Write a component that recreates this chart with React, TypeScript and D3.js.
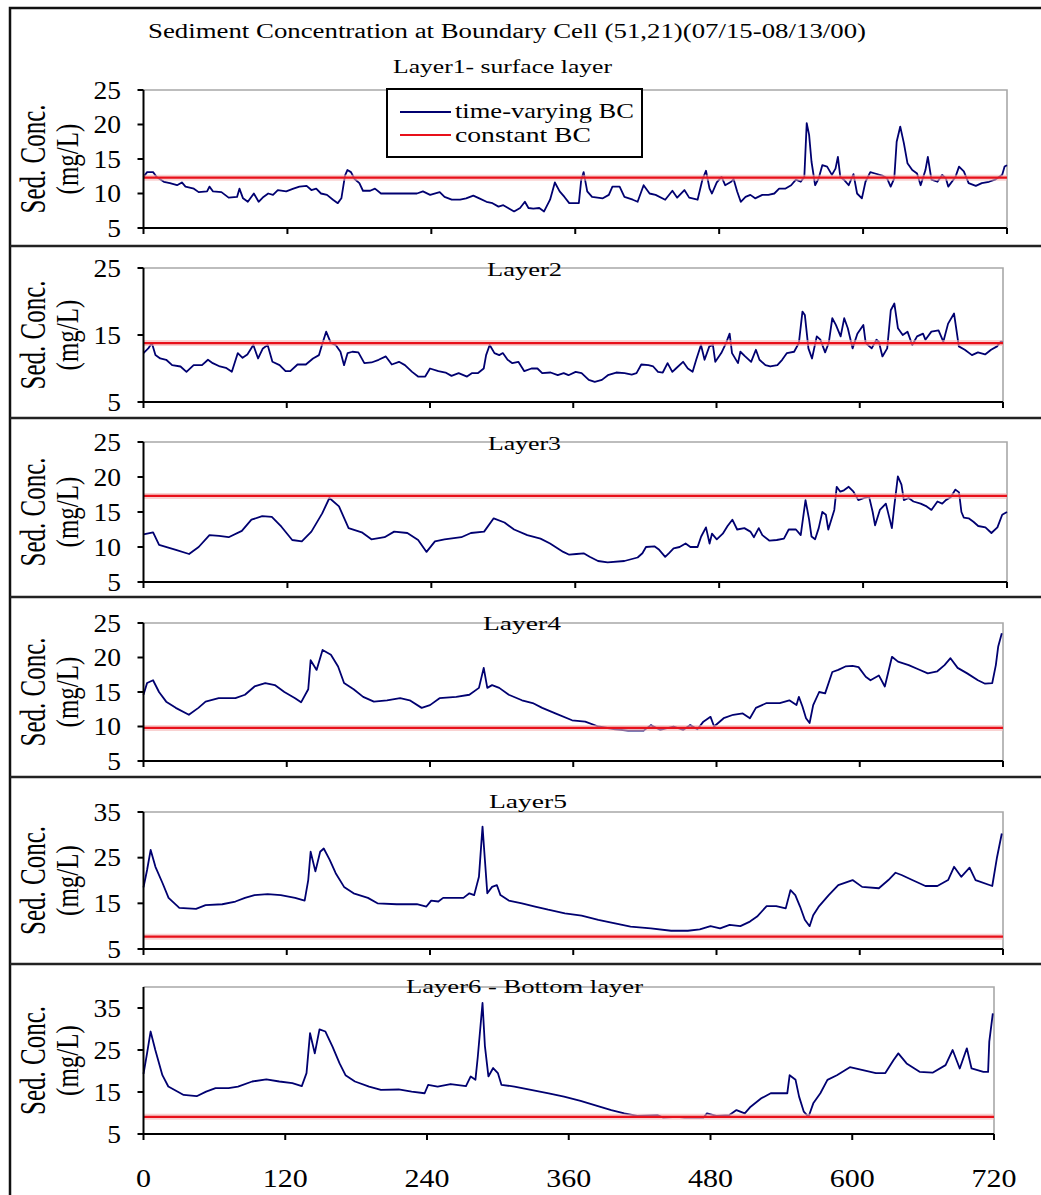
import React from "react";
import * as d3 from "d3";

// hours since 07/15 00:00, sediment concentration (mg/L)
const hourTicks = [0, 120, 240, 360, 480, 600, 720];
const layerNames = ["Layer1- surface layer", "Layer2", "Layer3", "Layer4", "Layer5", "Layer6 - Bottom layer"];
const yDomains = [[5, 25], [5, 25], [5, 25], [5, 25], [5, 35], [5, 40]];
const yTickSets = [
  [5, 10, 15, 20, 25],
  [5, 15, 25],
  [5, 10, 15, 20, 25],
  [5, 10, 15, 20, 25],
  [5, 15, 25, 35],
  [5, 15, 25, 35],
];
const constantBC = [12.3, 13.8, 17.3, 9.8, 7.7, 9.1];

const layer1 = [
  [0, 12.4], [3, 13.1], [8, 13.1], [11, 12.4], [17, 11.7], [22, 11.5], [28, 11.2], [32, 11.6], [35, 11.0], [42, 10.7],
  [46, 10.2], [53, 10.3], [55, 11.0], [58, 10.3], [65, 10.2], [71, 9.4], [78, 9.5], [80, 10.7], [83, 9.3], [87, 8.8],
  [92, 10.0], [96, 8.8], [100, 9.5], [104, 10.0], [108, 9.8], [112, 10.5], [119, 10.3], [125, 10.7], [130, 11.0], [136, 11.1],
  [140, 10.5], [144, 10.7], [148, 10.0], [153, 9.8], [158, 9.1], [162, 8.6], [165, 9.3], [168, 12.6], [170, 13.4], [173, 13.1],
  [176, 12.1], [180, 11.5], [183, 10.4], [189, 10.4], [193, 10.7], [198, 10.0], [214, 10.0], [228, 10.0], [233, 10.3], [239, 9.8],
  [247, 10.2], [251, 9.5], [257, 9.1], [264, 9.1], [269, 9.3], [275, 9.7], [280, 9.3], [286, 8.8], [291, 8.6], [296, 8.1],
  [300, 8.3], [304, 7.9], [309, 7.4], [314, 7.9], [318, 8.8], [321, 7.9], [325, 7.8], [330, 7.9], [334, 7.4], [339, 9.1],
  [343, 11.6], [347, 10.3], [351, 9.5], [355, 8.6], [363, 8.6], [365, 12.0], [367, 13.1], [370, 10.3], [374, 9.5], [383, 9.3],
  [388, 9.8], [391, 11.0], [397, 11.0], [401, 9.5], [408, 9.1], [412, 8.8], [417, 11.2], [422, 10.0], [427, 9.8], [435, 9.1],
  [441, 10.4], [445, 9.4], [451, 10.5], [455, 9.4], [462, 9.1], [466, 12.0], [469, 13.3], [472, 10.7], [474, 10.0], [478, 11.6],
  [482, 12.4], [485, 11.2], [490, 11.7], [492, 12.1], [495, 10.3], [498, 8.8], [502, 9.5], [506, 9.8], [510, 9.3], [516, 9.8],
  [521, 9.8], [526, 10.0], [530, 10.7], [535, 10.7], [540, 11.2], [544, 12.0], [548, 11.7], [551, 12.4], [553, 20.2], [555, 18.5],
  [557, 14.6], [560, 11.2], [563, 12.2], [566, 14.1], [570, 13.9], [574, 12.7], [577, 13.6], [579, 15.3], [581, 12.4], [584, 12.0],
  [588, 11.2], [592, 12.8], [595, 10.0], [599, 9.3], [602, 11.7], [606, 13.1], [610, 12.9], [616, 12.6], [620, 12.2], [623, 11.0],
  [626, 12.2], [628, 17.5], [631, 19.7], [634, 17.3], [637, 14.4], [641, 13.4], [645, 12.9], [648, 11.2], [652, 13.4], [654, 15.3],
  [657, 12.0], [662, 11.7], [666, 12.7], [669, 12.2], [671, 11.0], [677, 12.4], [680, 13.9], [684, 13.2], [688, 11.5], [694, 11.1],
  [699, 11.5], [705, 11.7], [710, 12.0], [716, 12.7], [718, 13.9], [720, 14.1],
];

const layer2 = [
  [0, 12.3], [4, 13.0], [7, 13.8], [10, 12.0], [14, 11.5], [19, 11.3], [24, 10.5], [31, 10.3], [36, 9.5], [42, 10.5],
  [49, 10.5], [54, 11.3], [58, 10.8], [64, 10.3], [69, 10.1], [74, 9.5], [79, 12.3], [83, 11.6], [87, 12.1], [92, 13.5],
  [96, 11.5], [100, 13.0], [104, 13.5], [108, 11.0], [114, 10.5], [119, 9.6], [123, 9.6], [129, 10.6], [136, 10.6], [142, 11.5],
  [147, 12.0], [150, 13.8], [153, 15.5], [157, 13.8], [161, 13.5], [165, 12.5], [168, 10.5], [171, 12.3], [175, 12.5], [180, 12.4],
  [185, 10.8], [191, 10.9], [197, 11.3], [203, 11.8], [208, 10.6], [214, 11.0], [219, 10.5], [225, 9.5], [230, 8.8], [236, 8.8],
  [240, 10.0], [247, 9.6], [253, 9.4], [258, 8.9], [264, 9.3], [271, 8.8], [275, 9.3], [280, 9.3], [285, 10.0], [287, 12.0],
  [290, 13.5], [294, 12.3], [298, 12.0], [301, 12.3], [305, 11.3], [309, 10.8], [314, 11.0], [319, 9.6], [325, 10.0], [330, 10.0],
  [334, 9.3], [341, 9.4], [347, 9.0], [352, 9.3], [356, 9.0], [362, 9.5], [367, 9.3], [373, 8.3], [378, 8.0], [384, 8.3],
  [389, 9.0], [396, 9.4], [403, 9.3], [409, 9.1], [413, 9.3], [417, 10.6], [423, 10.5], [427, 10.3], [431, 9.5], [435, 9.4],
  [439, 10.8], [443, 9.5], [446, 10.0], [452, 11.0], [456, 10.0], [460, 9.5], [463, 11.3], [467, 13.5], [470, 11.3], [474, 13.3],
  [477, 13.5], [479, 11.0], [484, 12.3], [488, 13.8], [491, 15.2], [493, 12.3], [498, 10.8], [500, 12.5], [504, 11.8], [509, 11.0],
  [513, 12.8], [516, 11.3], [521, 10.5], [525, 10.3], [531, 10.5], [535, 11.3], [539, 12.3], [545, 12.5], [549, 13.8], [552, 18.5],
  [554, 18.0], [557, 13.0], [560, 11.5], [564, 14.8], [567, 14.3], [571, 12.4], [574, 13.8], [577, 17.5], [580, 16.5], [584, 14.8],
  [587, 17.5], [590, 16.0], [594, 13.0], [598, 15.2], [603, 16.5], [605, 13.8], [610, 13.0], [614, 14.3], [616, 14.0], [619, 11.8],
  [623, 13.0], [626, 18.7], [629, 19.7], [632, 16.0], [636, 15.0], [640, 15.5], [644, 13.5], [648, 14.8], [653, 15.2], [655, 14.3],
  [660, 15.5], [666, 15.7], [670, 14.0], [674, 16.7], [679, 18.2], [683, 13.3], [688, 12.8], [694, 12.0], [699, 12.4], [705, 12.1],
  [710, 12.8], [715, 13.3], [718, 14.0], [720, 14.0],
];

const layer3 = [
  [0, 11.8], [8, 12.1], [13, 10.3], [27, 9.6], [38, 9.0], [46, 10.0], [55, 11.7], [63, 11.6], [71, 11.4], [82, 12.3],
  [90, 13.9], [99, 14.4], [107, 14.3], [115, 12.9], [124, 11.0], [132, 10.8], [140, 12.2], [149, 14.8], [155, 17.0], [163, 15.8],
  [171, 12.7], [182, 12.1], [190, 11.1], [201, 11.4], [209, 12.2], [220, 12.0], [229, 11.0], [236, 9.3], [243, 10.8], [251, 11.1],
  [265, 11.4], [273, 12.0], [284, 12.2], [292, 14.1], [301, 13.5], [309, 12.5], [320, 11.7], [331, 11.2], [339, 10.5], [350, 9.3],
  [355, 8.9], [361, 9.0], [367, 9.1], [372, 8.6], [379, 8.0], [387, 7.8], [401, 8.0], [412, 8.5], [416, 9.1], [419, 10.0],
  [426, 10.1], [430, 9.6], [435, 8.6], [438, 9.1], [442, 9.8], [447, 10.0], [452, 10.5], [456, 10.0], [462, 10.0], [465, 11.5],
  [469, 12.8], [472, 10.5], [474, 11.9], [478, 11.1], [483, 11.9], [487, 13.0], [491, 13.9], [495, 12.5], [501, 12.7], [506, 12.2],
  [509, 11.4], [513, 12.7], [516, 11.7], [522, 10.9], [528, 11.0], [534, 11.2], [538, 12.5], [544, 12.5], [548, 11.7], [552, 16.7],
  [555, 13.9], [557, 11.5], [560, 11.1], [563, 12.7], [566, 15.0], [569, 14.6], [571, 12.5], [576, 15.3], [578, 18.6], [581, 17.9],
  [584, 18.1], [588, 18.6], [592, 17.9], [596, 16.7], [601, 17.0], [605, 17.2], [608, 15.0], [610, 13.1], [614, 15.3], [619, 16.2],
  [621, 14.8], [624, 12.7], [626, 15.8], [629, 20.1], [632, 18.9], [634, 16.7], [638, 17.0], [642, 16.5], [648, 16.2], [653, 15.8],
  [657, 15.3], [662, 16.5], [666, 16.2], [669, 16.7], [673, 17.1], [677, 18.2], [680, 17.8], [682, 15.0], [684, 14.2], [688, 14.1],
  [692, 13.6], [696, 13.0], [702, 12.8], [707, 12.0], [712, 12.8], [716, 14.6], [720, 15.0],
];

const layer4 = [
  [0, 14.6], [3, 16.3], [8, 16.7], [13, 15.0], [19, 13.6], [27, 12.7], [38, 11.7], [46, 12.7], [52, 13.6], [63, 14.1],
  [77, 14.1], [85, 14.6], [93, 15.8], [102, 16.3], [110, 16.0], [118, 15.0], [127, 14.1], [132, 13.5], [138, 15.4], [140, 19.6],
  [145, 18.2], [150, 21.1], [157, 20.4], [163, 18.7], [168, 16.3], [176, 15.4], [184, 14.3], [193, 13.6], [204, 13.8], [215, 14.1],
  [223, 13.8], [233, 12.7], [240, 13.1], [248, 14.1], [262, 14.3], [273, 14.6], [281, 15.6], [285, 18.5], [288, 15.6], [292, 16.0],
  [298, 15.6], [306, 14.6], [317, 13.8], [326, 13.4], [334, 12.7], [345, 11.9], [359, 10.9], [370, 10.7], [381, 10.0], [395, 9.6],
  [406, 9.4], [419, 9.4], [425, 10.2], [433, 9.5], [444, 10.0], [452, 9.5], [458, 10.2], [464, 9.6], [469, 10.7], [475, 11.4],
  [478, 10.0], [486, 11.2], [494, 11.7], [502, 11.9], [508, 11.2], [513, 12.7], [522, 13.4], [533, 13.4], [541, 13.8], [547, 13.1],
  [549, 14.3], [552, 12.9], [555, 11.2], [558, 10.5], [561, 13.1], [566, 15.0], [571, 14.8], [577, 17.9], [582, 18.2], [588, 18.7],
  [594, 18.8], [599, 18.6], [605, 17.2], [609, 16.7], [616, 17.4], [621, 15.8], [627, 20.1], [632, 19.4], [641, 18.9], [649, 18.3],
  [657, 17.7], [665, 18.0], [671, 18.9], [676, 19.9], [682, 18.5], [690, 17.7], [699, 16.7], [705, 16.2], [711, 16.3], [714, 18.9],
  [716, 21.6], [719, 23.5],
];

const layer5 = [
  [0, 18.5], [3, 22.3], [6, 26.7], [10, 23.0], [16, 19.4], [21, 16.2], [30, 14.0], [44, 13.8], [52, 14.6], [66, 14.8],
  [77, 15.4], [85, 16.2], [93, 16.8], [104, 17.0], [115, 16.8], [127, 16.2], [135, 15.6], [138, 20.1], [140, 26.3], [144, 22.0],
  [148, 26.3], [151, 27.0], [156, 24.5], [161, 21.6], [168, 18.6], [176, 17.2], [188, 16.2], [196, 15.0], [212, 14.8], [229, 14.8],
  [237, 14.3], [241, 15.6], [247, 15.4], [251, 16.2], [268, 16.2], [273, 17.2], [277, 16.8], [281, 20.8], [284, 31.8], [286, 24.5],
  [288, 17.2], [292, 18.6], [296, 19.0], [299, 16.8], [306, 15.6], [317, 15.0], [328, 14.3], [339, 13.6], [353, 12.8], [367, 12.3],
  [381, 11.4], [395, 10.6], [408, 9.9], [425, 9.5], [442, 9.0], [456, 9.0], [466, 9.3], [475, 10.0], [483, 9.5], [491, 10.3],
  [500, 10.0], [508, 11.0], [514, 12.1], [522, 14.4], [530, 14.4], [538, 13.9], [542, 17.9], [546, 16.8], [550, 14.3], [554, 11.4],
  [558, 10.0], [561, 12.4], [566, 14.4], [574, 16.8], [582, 19.0], [594, 20.1], [602, 18.6], [616, 18.3], [624, 20.1], [630, 21.7],
  [635, 21.2], [644, 20.1], [655, 18.8], [665, 18.8], [674, 20.1], [679, 23.0], [685, 20.8], [692, 22.8], [697, 20.1], [711, 18.8],
  [715, 25.1], [719, 30.3],
];

const layer6 = [
  [0, 19.3], [3, 24.2], [6, 29.4], [10, 25.0], [16, 19.0], [21, 16.3], [34, 14.3], [45, 14.0], [53, 15.1], [61, 15.9],
  [72, 15.9], [80, 16.3], [92, 17.5], [104, 18.0], [115, 17.5], [126, 17.1], [134, 16.4], [138, 19.5], [141, 29.0], [145, 24.2],
  [149, 29.9], [154, 29.4], [160, 25.8], [166, 21.8], [171, 19.0], [179, 17.5], [191, 16.3], [201, 15.5], [216, 15.6], [227, 15.1],
  [238, 14.7], [241, 16.7], [249, 16.3], [260, 16.9], [273, 16.4], [277, 18.7], [281, 17.9], [283, 23.4], [287, 36.2], [289, 26.0],
  [292, 18.7], [296, 20.7], [300, 19.5], [303, 16.7], [314, 16.3], [328, 15.5], [343, 14.7], [356, 13.9], [370, 12.9], [384, 11.7],
  [396, 10.7], [407, 9.9], [418, 9.3], [435, 9.5], [440, 8.9], [452, 9.1], [458, 8.9], [474, 8.9], [477, 9.9], [485, 9.3],
  [496, 9.5], [502, 10.7], [509, 9.9], [514, 11.5], [523, 13.5], [531, 14.7], [545, 14.7], [547, 19.0], [552, 17.9], [555, 13.9],
  [559, 10.3], [563, 9.1], [567, 12.3], [573, 14.7], [579, 17.9], [587, 19.0], [598, 20.9], [609, 20.2], [620, 19.5], [628, 19.5],
  [635, 22.6], [639, 24.2], [646, 21.8], [657, 19.8], [668, 19.6], [679, 21.4], [685, 25.0], [691, 20.6], [697, 25.4], [701, 20.6],
  [711, 19.8], [715, 19.8], [716, 27.0], [719, 33.7],
];

const series = [layer1, layer2, layer3, layer4, layer5, layer6];

// page layout of the six stacked charts
const PANELS = [
  { top: 90, bottom: 228, right: 1007, tx: 393, ty: 73, tlen: 219 },
  { top: 268, bottom: 402, right: 1003, tx: 487, ty: 276, tlen: 75 },
  { top: 442, bottom: 582, right: 1007, tx: 488, ty: 450, tlen: 73 },
  { top: 623, bottom: 761, right: 1003, tx: 483, ty: 630, tlen: 78 },
  { top: 812, bottom: 949, right: 1003, tx: 489, ty: 808, tlen: 78 },
  { top: 987, bottom: 1134, right: 994, tx: 406, ty: 993, tlen: 237 },
];
const SEPARATORS = [246, 418, 597, 777, 964];
const X0 = 143.5;
const FONT = "'Liberation Serif', 'Times New Roman', serif";
const NAVY = "#000070";
const RED = "#e8101a";

function Panel({ i }: { i: number }) {
  const p = PANELS[i];
  const x = d3.scaleLinear().domain([0, 720]).range([X0, p.right]);
  const y = d3.scaleLinear().domain(yDomains[i]).range([p.bottom, p.top]);
  const line = d3.line<number[]>().x(d => x(d[0])).y(d => y(d[1]));
  const mid = (p.top + p.bottom) / 2;
  const redY = y(constantBC[i]);
  return (
    <g>
      <path d={`M${X0},${p.top}H${p.right}V${p.bottom}`} fill="none" stroke="#a8a8a8" strokeWidth={1.6} />
      <path d={line(series[i] as number[][]) || ""} fill="none" stroke={NAVY} strokeWidth={1.8} strokeLinejoin="round" />
      <line x1={X0} x2={p.right} y1={redY} y2={redY} stroke="#f5b5b5" strokeWidth={6} opacity={0.6} />
      <line x1={X0} x2={p.right} y1={redY} y2={redY} stroke={RED} strokeWidth={2.2} />
      {/* axes */}
      <line x1={X0} x2={X0} y1={p.top} y2={p.bottom} stroke="#000" strokeWidth={2} />
      <line x1={X0} x2={p.right} y1={p.bottom} y2={p.bottom} stroke="#000" strokeWidth={2} />
      {yTickSets[i].map(v => (
        <g key={"y" + v}>
          <line x1={X0 - 6} x2={X0} y1={y(v)} y2={y(v)} stroke="#000" strokeWidth={2} />
          <text transform={`translate(121,${y(v)}) scale(1.1,1)`} dy="0.35em" textAnchor="end"
            fontFamily={FONT} fontSize={25}>{v}</text>
        </g>
      ))}
      {hourTicks.map(h => (
        <line key={"x" + h} x1={x(h)} x2={x(h)} y1={p.bottom} y2={p.bottom + 6} stroke="#000" strokeWidth={2} />
      ))}
      {i === PANELS.length - 1 && hourTicks.map(h => (
        <text key={"xl" + h} transform={`translate(${x(h)},1187) scale(1.2,1)`} textAnchor="middle"
          fontFamily={FONT} fontSize={25}>{h}</text>
      ))}
      <text x={p.tx} y={p.ty} textLength={p.tlen} lengthAdjust="spacingAndGlyphs"
        fontFamily={FONT} fontSize={19}>{layerNames[i]}</text>
      <text transform={`translate(45,${mid}) scale(1.4,1) rotate(-90)`} textAnchor="middle"
        fontFamily={FONT} fontSize={25}>Sed. Conc.</text>
      <text transform={`translate(78,${mid}) scale(1.25,1) rotate(-90)`} textAnchor="middle"
        fontFamily={FONT} fontSize={25}>(mg/L)</text>
    </g>
  );
}

export default function App() {
  return (
    <svg width={1041} height={1195} style={{ position: "absolute", left: 0, top: 0, background: "#fff" }}>
      <rect x={0} y={0} width={1041} height={1195} fill="#fff" />
      <path d="M10,1195V8H1041" fill="none" stroke="#111" strokeWidth={2.5} />
      {SEPARATORS.map(s => (
        <line key={s} x1={10} x2={1041} y1={s} y2={s} stroke="#222" strokeWidth={2.5} />
      ))}
      <text x={148} y={38} textLength={718} lengthAdjust="spacingAndGlyphs" fontFamily={FONT} fontSize={20}>
        Sediment Concentration at Boundary Cell (51,21)(07/15-08/13/00)
      </text>
      {PANELS.map((_, i) => <Panel key={i} i={i} />)}
      {/* legend */}
      <rect x={387} y={89} width={255} height={68} fill="#fff" stroke="#000" strokeWidth={2} />
      <line x1={400} x2={451} y1={112} y2={112} stroke={NAVY} strokeWidth={2} />
      <line x1={400} x2={451} y1={135} y2={135} stroke={RED} strokeWidth={2.2} />
      <text x={455} y={118} textLength={179} lengthAdjust="spacingAndGlyphs" fontFamily={FONT} fontSize={22}>time-varying BC</text>
      <text x={455} y={142} textLength={136} lengthAdjust="spacingAndGlyphs" fontFamily={FONT} fontSize={22}>constant BC</text>
    </svg>
  );
}
